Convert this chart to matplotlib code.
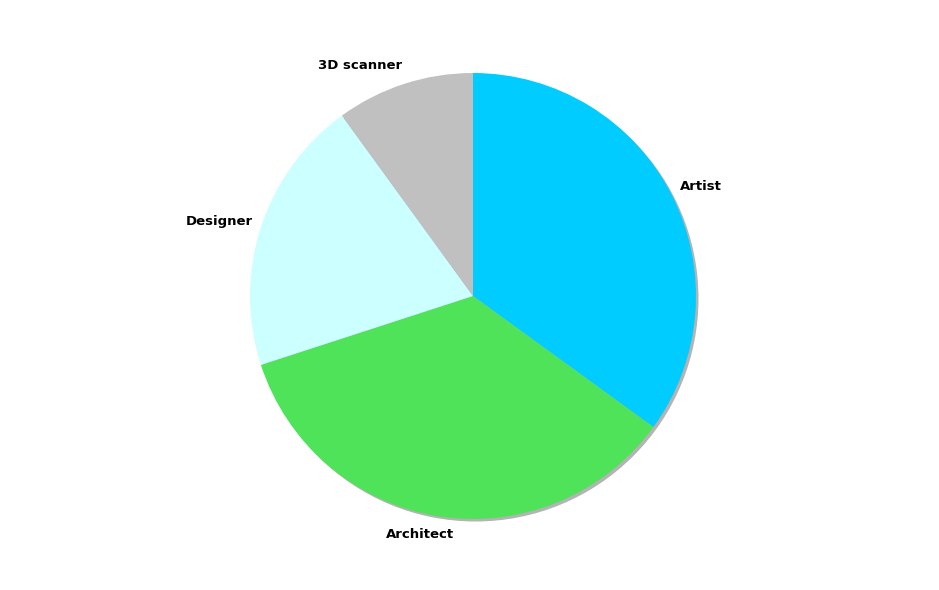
import numpy as np
import matplotlib
matplotlib.use("Agg")
import matplotlib.pyplot as plt
from matplotlib.patches import Circle
import matplotlib.transforms as mtransforms

labels = ["Artist", "Architect", "Designer", "3D scanner"]
values = [35, 35, 20, 10]
colors = ["#00CCFF", "#4FE35A", "#CCFFFF", "#C0C0C0"]

W, H = 939, 590
fig = plt.figure(figsize=(W / 100, H / 100), dpi=100)
fig.patch.set_facecolor("white")

R_PX = 223
cx, cy = 473, 590 - 296
side = 560
ax = fig.add_axes([(cx - side / 2) / W, (cy - side / 2) / H, side / W, side / H])
L = side / 2 / R_PX
ax.set_xlim(-L, L)
ax.set_ylim(-L, L)
ax.set_aspect("equal")
ax.axis("off")

# shadow
off = 2.5 / R_PX
ax.add_patch(Circle((off, -off), 1.0, facecolor="#b4b4b4", edgecolor="none", zorder=0))

wedges, _ = ax.pie(values, colors=colors, startangle=90, counterclock=False,
                   radius=1.0, wedgeprops=dict(linewidth=0), frame=False)
for w in wedges:
    w.set_zorder(1)
ax.set_xlim(-L, L)
ax.set_ylim(-L, L)

fig.canvas.draw()
renderer = fig.canvas.get_renderer()
for w, lab in zip(wedges, labels):
    mid = np.deg2rad((w.theta1 + w.theta2) / 2)
    s, c = np.cos(mid), np.sin(mid)
    x, y = 1.04 * s, 1.085 * c
    t = ax.text(x, y, lab, ha="left", va="center", fontsize=9.5,
                fontweight="bold", family="DejaVu Sans", color="black")
    bb = t.get_window_extent(renderer)
    f = np.clip(0.5 - 1.6 * s, 0, 1)
    dx = -f * bb.width
    t.set_transform(ax.transData + mtransforms.Affine2D().translate(dx, 0))

fig.savefig("out.png", dpi=100, facecolor="white")
